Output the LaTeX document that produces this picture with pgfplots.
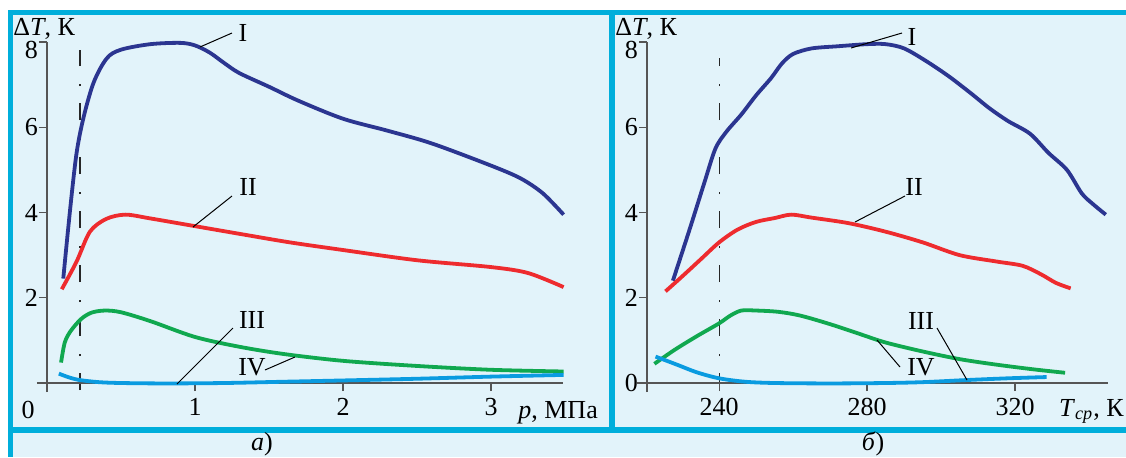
\documentclass[border=0pt]{standalone}
\usepackage{pgfplots}
\pgfplotsset{compat=1.18}
\usepackage{fontspec}
\setmainfont{Liberation Serif}
\definecolor{bgblue}{HTML}{E2F3FA}
\definecolor{framec}{HTML}{00AEDB}
\definecolor{cI}{HTML}{2B3590}
\definecolor{cII}{HTML}{EE2B2E}
\definecolor{cIII}{HTML}{0A9BE0}
\definecolor{cIV}{HTML}{10A84F}
\definecolor{axgray}{HTML}{555555}

\pgfplotsset{
 panel/.style={
  scale only axis, height=170.5pt, ymin=0, ymax=8,
  axis x line=bottom, axis y line=left,
  axis line style={-, draw=axgray, line width=0.65pt},
  x axis line style={shorten <=-5pt},
  y axis line style={shorten <=-4.5pt},
  tick align=outside, major tick length=4pt,
  tick style={draw=axgray, line width=0.65pt},
  ticklabel style={font=\fontsize{13}{15}\selectfont},
  yticklabel style={xshift=3pt},
  extra y ticks={8},
  extra y tick style={yticklabel style={yshift=-4pt}},
  /pgf/number format/assume math mode=true,
  /pgf/number format/1000 sep={},
  clip=false,
  every axis plot/.append style={line width=1.9pt, smooth, tension=0.5, no markers},
 }
}

\begin{document}
\begin{tikzpicture}
\useasboundingbox (0pt,0pt) rectangle (563pt,-228.5pt);
\begin{scope}[x=0.5pt,y=-0.5pt]
\fill[white] (0,0) rectangle (1126,457);
\fill[bgblue] (10,12) rectangle (1126,457);
\draw[framec, line width=2.5pt] (8,12.5) -- (1126,12.5);
\draw[framec, line width=2.5pt] (10.8,10) -- (10.8,457);
\draw[framec, line width=2.8pt] (612,10) -- (612,432);
\draw[framec, line width=3pt] (8,429.5) -- (1126,429.5);
% dash-dot lines
\draw[black!85, line width=0.6pt, dash pattern=on 8.5pt off 8.5pt on 1pt off 9pt] (80,390) -- (80,50);
\draw[black!85, line width=0.6pt, dash pattern=on 8.5pt off 8.5pt on 1pt off 9pt] (719.5,390) -- (719.5,58);
\end{scope}

\begin{axis}[panel, at={(23.5pt,-191.5pt)}, anchor=south west, width=258pt,
  xmin=0, xmax=3.486, xtick={1,2,3}, ytick={2,4,6}]
\addplot[cI] coordinates {
(0.11,2.45) (0.2,5.4) (0.3,6.9) (0.4,7.6) (0.5,7.82) (0.7,7.95) (0.9,7.98) (1.0,7.92)
(1.1,7.75) (1.2,7.5) (1.3,7.27) (1.5,6.95) (1.7,6.62) (2.0,6.2) (2.3,5.92) (2.6,5.62)
(3.0,5.1) (3.2,4.8) (3.35,4.45) (3.49,3.95)};
\addplot[cII] coordinates {
(0.1,2.2) (0.2,2.85) (0.29,3.55) (0.4,3.85) (0.53,3.95) (0.7,3.86) (1.0,3.68) (1.3,3.5)
(1.64,3.3) (2.0,3.12) (2.5,2.88) (3.0,2.72) (3.25,2.58) (3.49,2.25)};
\addplot[cIV] coordinates {
(0.095,0.48) (0.12,0.95) (0.16,1.22) (0.23,1.5) (0.3,1.65) (0.39,1.70) (0.5,1.66)
(0.7,1.45) (1.0,1.08) (1.3,0.85) (1.6,0.68) (2.0,0.52) (2.5,0.4) (3.0,0.31) (3.49,0.27)};
\addplot[cIII] coordinates {
(0.08,0.22) (0.15,0.13) (0.22,0.07) (0.35,0.02) (0.5,0.0) (0.8,-0.01) (1.2,0.0)
(1.6,0.03) (2.0,0.06) (2.5,0.1) (3.0,0.15) (3.49,0.19)};
\end{axis}

\begin{axis}[panel, at={(323.5pt,-191.5pt)}, anchor=south west, width=230.5pt,
  xmin=220.5, xmax=345.1, xtick={240,280,320}, ytick={0,2,4,6}]
\addplot[cI] coordinates {
(227.5,2.4) (232,3.6) (236,4.7) (239,5.5) (242,5.9) (246,6.3) (250,6.75) (254,7.15)
(257,7.5) (260,7.72) (265,7.85) (272,7.9) (280,7.95) (285,7.95) (290,7.85) (296,7.55)
(302,7.2) (308,6.8) (313,6.45) (318,6.15) (324,5.85) (329,5.4) (334,5.0) (338,4.45)
(341,4.2) (344.5,3.95)};
\addplot[cII] coordinates {
(225.5,2.15) (230,2.5) (235,2.9) (240,3.3) (245,3.6) (250,3.78) (255,3.87) (259.5,3.95)
(265,3.88) (275,3.75) (285,3.55) (295,3.3) (305,3.0) (315,2.85) (322,2.75) (327,2.55)
(331,2.35) (335,2.22)};
\addplot[cIV] coordinates {
(222.5,0.45) (228,0.78) (234,1.1) (240,1.4) (243,1.58) (246,1.7) (250,1.7) (256,1.67)
(262,1.58) (270,1.38) (278,1.15) (285,0.95) (295,0.74) (305,0.56) (315,0.43) (325,0.32)
(333.5,0.24)};
\addplot[cIII] coordinates {
(222.8,0.62) (228,0.45) (234,0.25) (240,0.11) (247,0.03) (255,0.0) (270,-0.01) (285,0.0)
(295,0.02) (307,0.07) (318,0.11) (328.5,0.14)};
\end{axis}

\begin{scope}[x=0.5pt,y=-0.5pt, every node/.style={font=\fontsize{13}{15}\selectfont, inner sep=0pt}]
% axis titles
\node[anchor=base west] at (13,35) {Δ\textit{T}, К};
\node[anchor=base west] at (615,35) {Δ\textit{T}, К};
\node[anchor=base west] at (518,418) {\textit{p}, МПа};
\node[anchor=base east] at (1124,416) {\textit{T}\textsubscript{\textit{ср}}, К};
\node[anchor=base] at (28,418) {0};
% captions
\node[anchor=base] at (262,450) {\textit{а})};
\node[anchor=base] at (873,450) {\textit{б})};
% leader lines
\draw[black, line width=0.5pt] (200,47) -- (232,33);
\draw[black, line width=0.5pt] (193,227) -- (232,196);
\draw[black, line width=0.5pt] (177,384) -- (233,328);
\draw[black, line width=0.5pt] (265,370) -- (295,357);
\draw[black, line width=0.5pt] (851,48) -- (902,33);
\draw[black, line width=0.5pt] (855,222) -- (905,196);
\draw[black, line width=0.5pt] (937,328) -- (967,380);
\draw[black, line width=0.5pt] (900,367) -- (877,340);
% curve labels
\node at (243,33) {I};
\node at (248,187) {II};
\node at (252,320) {III};
\node at (252,367) {IV};
\node at (912,37) {I};
\node at (914,187) {II};
\node at (921,321) {III};
\node at (921,367) {IV};
\end{scope}
\end{tikzpicture}
\end{document}
